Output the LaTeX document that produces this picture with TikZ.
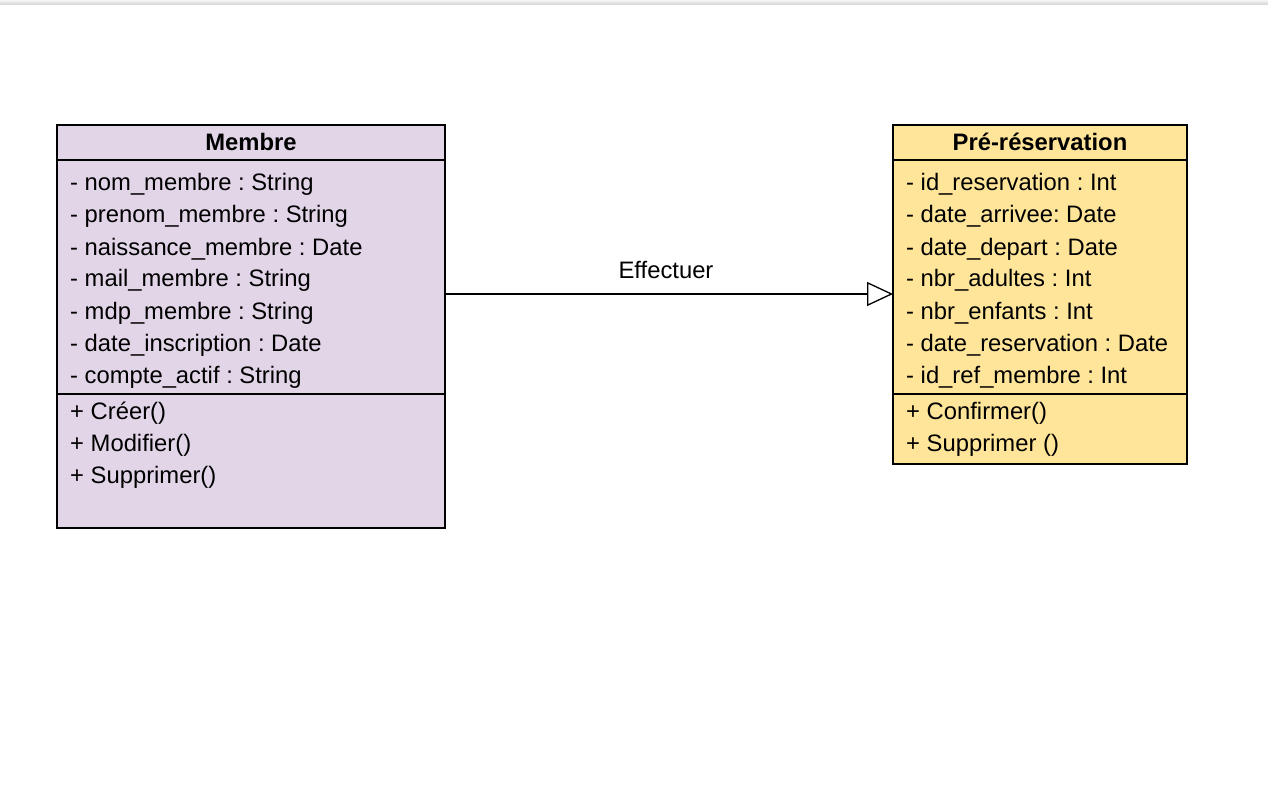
\documentclass[tikz,border=0pt]{standalone}
\usepackage{fontspec}
\setmainfont{Liberation Sans}
\usepackage{tikz}
\usetikzlibrary{calc,arrows.meta}
\definecolor{membrefill}{HTML}{E1D5E7}
\definecolor{resafill}{HTML}{FFE599}
\frenchspacing
\newcommand{\umlfont}{\fontsize{23.8}{28}\selectfont}
% #1 = name, #2 = x left, #3 = x right, #4 = y bottom, #5 = fill
\newcommand{\makeclass}[5]{
	\node[classbox, fill=#5, minimum width=#3-#2, minimum height=#4-125,
		anchor=center] (#1) at ({(#2+#3)/2},{(125+#4)/2}) {};
	\draw[boxline] (#2,160) -- (#3,160);
	\draw[boxline] (#2,394) -- (#3,394);
}

\begin{document}
\begin{tikzpicture}[x=1pt,y=-1pt,
	classbox/.style={draw=black, line width=1.6pt, inner sep=0pt, outer sep=0pt},
	boxline/.style={line width=1.6pt},
	rowtext/.style={anchor=base west, inner sep=0pt, font=\umlfont},
	headtext/.style={anchor=base, inner sep=0pt, font=\umlfont\bfseries}]
	\useasboundingbox (0,0) rectangle (1268,786);
	\fill[top color=black!4, bottom color=black!18] (0,0) rectangle (1268,5);

	\makeclass{membre}{57}{445}{528}{membrefill}
	\makeclass{resa}{893}{1187}{464}{resafill}

	\node[headtext] (membreT) at (251,151) {Membre};
	\node[headtext] (resaT) at (1040,151) {Pré-réservation};

	\foreach \txt [count=\i] in {- nom\_membre : String, - prenom\_membre : String,
		- naissance\_membre : Date, - mail\_membre : String, - mdp\_membre : String,
		- date\_inscription : Date, - compte\_actif : String}
		\node[rowtext] (mA\i) at (70,159+32*\i) {\txt};
	\foreach \txt [count=\i] in {+ Créer(), + Modifier(), + Supprimer()}
		\node[rowtext] (mM\i) at (70,387+32*\i) {\txt};

	\foreach \txt [count=\i] in {- id\_reservation : Int, - date\_arrivee: Date,
		- date\_depart : Date, - nbr\_adultes : Int, - nbr\_enfants : Int,
		- date\_reservation : Date, - id\_ref\_membre : Int}
		\node[rowtext] (rA\i) at (906,159+32*\i) {\txt};
	\foreach \txt [count=\i] in {+ Confirmer(), + Supprimer ()}
		\node[rowtext] (rM\i) at (906,387+32*\i) {\txt};

	\coordinate (effStart) at (445,294);
	\draw[line width=1.3pt, -{Triangle[open, length=26pt, width=24pt, line width=1.3pt]}]
		(effStart) -- (effStart -| resa.west);
	\node[rowtext, anchor=base] (effLabel) at (666,278) {Effectuer};

	\end{tikzpicture}
\end{document}
